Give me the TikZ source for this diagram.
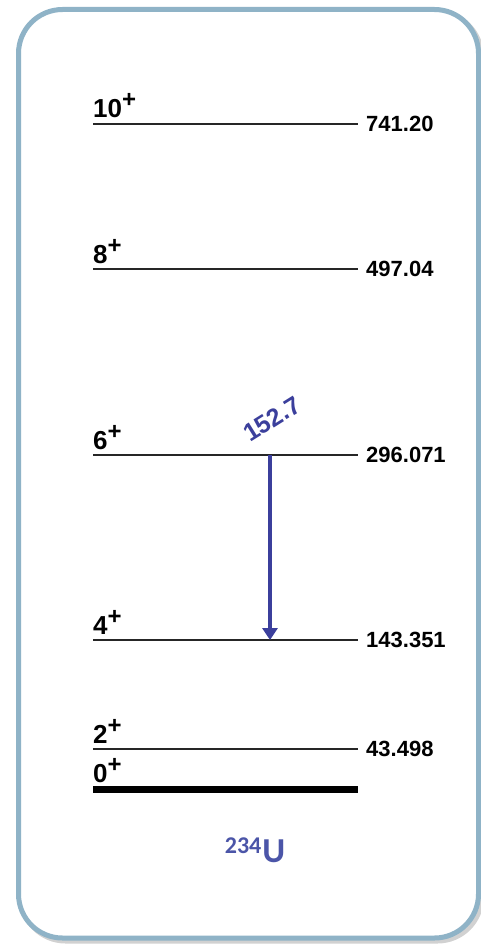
\documentclass[tikz,border=0pt]{standalone}
\usepackage{fontspec}
\setmainfont{Liberation Sans}
\newfontfamily\isofont{Carlito}
\usetikzlibrary{arrows.meta}
\definecolor{framecol}{HTML}{8FB3C7}
\definecolor{gammacol}{HTML}{3B3F9C}
\definecolor{isocol}{HTML}{4B55A8}
\newcommand{\spinlab}[1]{#1\raisebox{10pt}{\fontsize{24}{24}\selectfont +}}

\begin{document}
\begin{tikzpicture}[x=1pt, y=-1pt,
            frame/.style={draw=framecol, line width=5pt, rounded corners=44pt},
            shadow/.style={draw=black!40, line width=5pt, rounded corners=44pt, opacity=0.45},
            level/.style={color=black!85, line width=1.6pt},
            groundlevel/.style={color=black, line width=7pt},
            spinnode/.style={anchor=base west, inner sep=0pt, font=\fontsize{26}{26}\selectfont\bfseries},
            energynode/.style={anchor=west, inner sep=0pt, font=\fontsize{22}{22}\selectfont\bfseries},
            gamma/.style={color=gammacol, line width=4pt, -{Triangle[length=12pt, width=15pt]}},
            gammanode/.style={color=gammacol, rotate=32, inner sep=0pt, font=\fontsize{25}{25}\selectfont\bfseries},
            isonode/.style={color=isocol, anchor=base, inner sep=0pt, font=\isofont\bfseries}
        ]
            \useasboundingbox (0,0) rectangle (481,944);

            % box
            \draw[shadow] (21.5,12.5) rectangle (481.5,941);
            \draw[frame, fill=white] (18.5,9.5) rectangle (478.5,938);

            % levels
            \foreach \spin/\en/\y in {10/741.20/124, 8/497.04/269, 6/296.071/455, 4/143.351/640, 2/43.498/749}{
                \draw[level] (93,\y) -- (358,\y);
                \node[spinnode] (s\spin) at (93,\y-6) {\spinlab{\spin}};
                \node[energynode] (e\spin) at (366,\y) {\en};
            }

            % ground state
            \draw[groundlevel] (93,789) -- (358,789);
            \node[spinnode] (s0) at (93,782) {\spinlab{0}};

            % transition
            \coordinate (g6) at (270,455);
            \coordinate (g4) at (270,640);
            \draw[gamma] (g6) -- (g4);
            \node[gammanode] (glab) at (272,419) {152.7};

            % nucleus
            \node[isonode] (iso) at (255,862) {\raisebox{9pt}{\fontsize{24}{24}\selectfont 234}\hspace{1pt}{\fontsize{35}{35}\selectfont U}};

        \end{tikzpicture}
\end{document}
